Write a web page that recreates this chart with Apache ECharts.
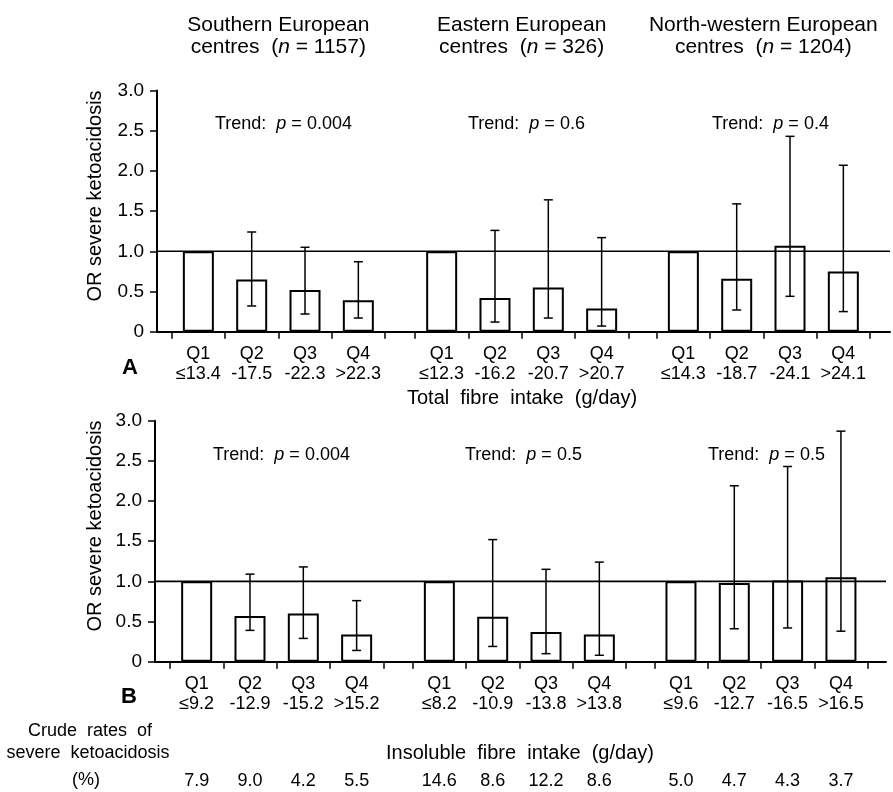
<!DOCTYPE html>
<html><head><meta charset="utf-8">
<script src="https://cdn.jsdelivr.net/npm/echarts@6/dist/echarts.min.js"></script>
<style>html,body{margin:0;padding:0;background:#fff}#c{width:893px;height:792px}</style>
</head><body><div id="c"></div>
<script>
// ---------------- data ----------------
const quartiles = ['Q1', 'Q2', 'Q3', 'Q4'];
const regionNames = ['Southern European', 'Eastern European', 'North-western European'];
const regionN = ['1157', '326', '1204'];
const referenceOR = 1.0;

const totalCuts = ['≤13.4', '-17.5', '-22.3', '>22.3', '≤12.3', '-16.2', '-20.7', '>20.7', '≤14.3', '-18.7', '-24.1', '>24.1'];
const totalOR   = [1.00, 0.65, 0.52, 0.39,  1.00, 0.42, 0.55, 0.29,  1.00, 0.66, 1.07, 0.75];
const totalLow  = [null, 0.32, 0.22, 0.17,  null, 0.12, 0.17, 0.07,  null, 0.27, 0.44, 0.25];
const totalHigh = [null, 1.24, 1.05, 0.87,  null, 1.26, 1.64, 1.17,  null, 1.59, 2.43, 2.07];
const totalTrend = ['0.004', '0.6', '0.4'];

const insolCuts = ['≤9.2', '-12.9', '-15.2', '>15.2', '≤8.2', '-10.9', '-13.8', '>13.8', '≤9.6', '-12.7', '-16.5', '>16.5'];
const insolOR   = [1.00, 0.57, 0.60, 0.34,  1.00, 0.56, 0.37, 0.34,  1.00, 0.98, 1.01, 1.05];
const insolLow  = [null, 0.39, 0.29, 0.14,  null, 0.19, 0.10, 0.08,  null, 0.41, 0.42, 0.38];
const insolHigh = [null, 1.09, 1.18, 0.76,  null, 1.52, 1.15, 1.24,  null, 2.19, 2.43, 2.87];
const insolTrend = ['0.004', '0.5', '0.5'];

const crudeRates = ['7.9', '9.0', '4.2', '5.5', '14.6', '8.6', '12.2', '8.6', '5.0', '4.7', '4.3', '3.7'];

// ---------------- layout / style ----------------
const FONT = '"Liberation Sans", Arial, Helvetica, sans-serif';
const grid = [], xAxis = [], yAxis = [], series = [], graphic = [];

function addPanel(p) {
  const gi = grid.length;
  grid.push({ left: p.axisLeft, top: p.top, width: p.axisRight - p.axisLeft, height: p.height });
  xAxis.push({ gridIndex: gi, type: 'value', min: 0, max: 1,
    axisLine: { show: true, lineStyle: { color: '#000', width: 2 } },
    axisTick: { show: false }, axisLabel: { show: false }, splitLine: { show: false } });
  yAxis.push({ gridIndex: gi, type: 'value', min: 0, max: 3, interval: 0.5,
    axisLine: { show: true, lineStyle: { color: '#000', width: 2 } },
    axisTick: { show: true, length: 7, lineStyle: { color: '#000', width: 1.5 } },
    axisLabel: { margin: 13, fontSize: 19, color: '#000', fontFamily: FONT,
      formatter: v => (v === 0 ? '0' : v.toFixed(1)) },
    splitLine: { show: false } });
  series.push({ type: 'line', xAxisIndex: xAxis.length - 1, yAxisIndex: yAxis.length - 1,
    data: [[0, referenceOR], [1, referenceOR]], symbol: 'none', silent: true, z: 5,
    lineStyle: { color: '#000', width: 1.6 } });

  for (let g = 0; g < 3; g++) {
    const sgi = grid.length;
    grid.push({ left: p.groupLeft[g], top: p.top, width: p.groupWidth, height: p.height });
    const xi = xAxis.length;
    xAxis.push({ gridIndex: sgi, type: 'category',
      data: quartiles.map((q, i) => q + '\n' + p.cuts[g * 4 + i]),
      axisLine: { show: false },
      axisTick: { show: true, length: 7, lineStyle: { color: '#000', width: 1.5 } },
      axisLabel: { interval: 0, margin: 12, fontSize: 18, lineHeight: 20, color: '#000', fontFamily: FONT } });
    if (p.rates) {
      xAxis.push({ gridIndex: sgi, type: 'category', position: 'bottom', offset: p.rateOffset,
        data: p.rates.slice(g * 4, g * 4 + 4),
        axisLine: { show: false }, axisTick: { show: false },
        axisLabel: { interval: 0, margin: 0, fontSize: 18, color: '#000', fontFamily: FONT } });
    }
    const yi = yAxis.length;
    yAxis.push({ gridIndex: sgi, type: 'value', min: 0, max: 3, show: false });

    series.push({ type: 'bar', xAxisIndex: xi, yAxisIndex: yi, barWidth: 31, z: 2, silent: true,
      data: p.or.slice(g * 4, g * 4 + 4),
      itemStyle: { color: '#fff', borderColor: '#000', borderWidth: 2 } });

    const err = [];
    for (let i = 0; i < 4; i++) {
      const k = g * 4 + i;
      if (p.low[k] != null) err.push([i, p.low[k], p.high[k]]);
    }
    series.push({ type: 'custom', xAxisIndex: xi, yAxisIndex: yi, z: 4, silent: true,
      encode: { x: 0, y: [1, 2] }, data: err,
      renderItem: (params, api) => {
        const lo = api.coord([api.value(0), api.value(1)]);
        const hi = api.coord([api.value(0), api.value(2)]);
        const cap = 4.5;
        const st = { stroke: '#000', lineWidth: 1.5 };
        return { type: 'group', children: [
          { type: 'line', shape: { x1: lo[0], y1: lo[1], x2: hi[0], y2: hi[1] }, style: st },
          { type: 'line', shape: { x1: lo[0] - cap, y1: lo[1], x2: lo[0] + cap, y2: lo[1] }, style: st },
          { type: 'line', shape: { x1: hi[0] - cap, y1: hi[1], x2: hi[0] + cap, y2: hi[1] }, style: st }
        ] };
      } });

    graphic.push({ type: 'text', x: p.trendX[g], y: p.trendY,
      style: { text: '{a|Trend:  }{i|p}{a| = ' + p.trend[g] + '}', textAlign: 'left', textVerticalAlign: 'middle',
        rich: { a: { fontSize: 18, fontFamily: FONT, fill: '#000' },
                i: { fontSize: 18, fontFamily: FONT, fontStyle: 'italic', fill: '#000' } } } });
  }
}

addPanel({ top: 90.5, height: 241.2, axisLeft: 157, axisRight: 890, groupLeft: [171.7, 415, 656.7], groupWidth: 213.3,
  cuts: totalCuts, or: totalOR, low: totalLow, high: totalHigh, trend: totalTrend,
  trendX: [215, 468, 712], trendY: 124 });
addPanel({ top: 420.7, height: 241, axisLeft: 155, axisRight: 886, groupLeft: [170, 412.7, 654.3], groupWidth: 213.3,
  cuts: insolCuts, or: insolOR, low: insolLow, high: insolHigh, trend: insolTrend,
  trendX: [213, 465, 708], trendY: 455, rates: crudeRates, rateOffset: 110 });

// region titles
const titleCenters = [278.3, 521.7, 763.3];
regionNames.forEach((name, g) => {
  graphic.push({ type: 'text', x: titleCenters[g], y: 36,
    style: { text: '{a|' + name + '}\n{a|centres  (}{i|n}{a| = ' + regionN[g] + ')}',
      textAlign: 'center', textVerticalAlign: 'middle',
      rich: { a: { fontSize: 21, lineHeight: 22, fontFamily: FONT, fill: '#000' },
              i: { fontSize: 21, lineHeight: 22, fontFamily: FONT, fontStyle: 'italic', fill: '#000' } } } });
});

function txt(x, y, text, size, extra) {
  graphic.push(Object.assign({ type: 'text', x: x, y: y,
    style: Object.assign({ text: text, fontSize: size, fontFamily: FONT, fill: '#000',
      textAlign: 'center', textVerticalAlign: 'middle' }, (extra && extra.style) || {}) },
    (extra && extra.el) || {}));
}
txt(95, 196, 'OR severe ketoacidosis', 20, { el: { rotation: Math.PI / 2 } });
txt(95, 526, 'OR severe ketoacidosis', 20, { el: { rotation: Math.PI / 2 } });
txt(130, 368, 'A', 22, { style: { fontWeight: 'bold' } });
txt(129, 697, 'B', 22, { style: { fontWeight: 'bold' } });
txt(522, 398, 'Total  fibre  intake  (g/day)', 20);
txt(520, 753, 'Insoluble  fibre  intake  (g/day)', 20);
txt(90, 731, 'Crude  rates  of', 18);
txt(88, 753, 'severe  ketoacidosis', 18);
txt(86, 780, '(%)', 18);

const chart = echarts.init(document.getElementById('c'), null, { renderer: 'canvas' });
chart.setOption({
  animation: false,
  backgroundColor: '#fff',
  grid: grid, xAxis: xAxis, yAxis: yAxis, series: series, graphic: graphic
});
</script>
</body></html>
